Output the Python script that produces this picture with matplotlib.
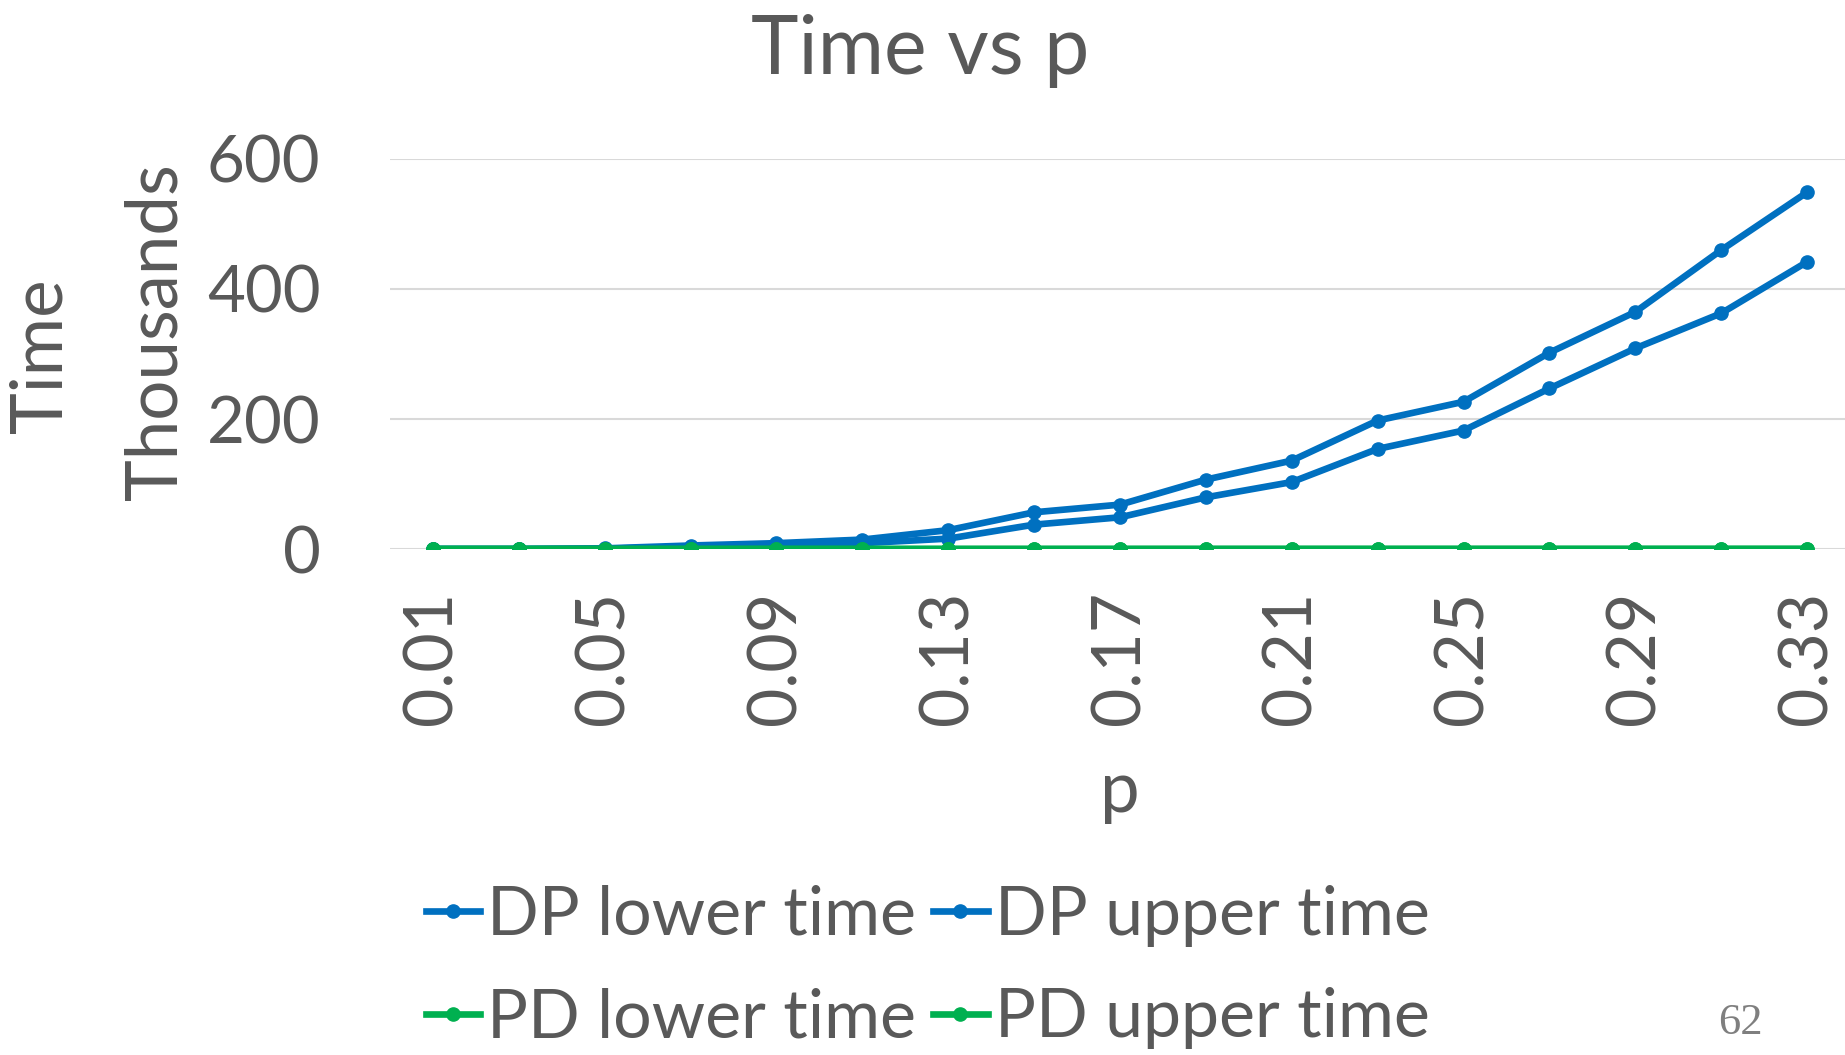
import numpy as np
import matplotlib.pyplot as plt
from matplotlib.lines import Line2D

# donnees (en milliers)
p = ["0.01", "0.03", "0.05", "0.07", "0.09", "0.11", "0.13", "0.15", "0.17",
     "0.19", "0.21", "0.23", "0.25", "0.27", "0.29", "0.31", "0.33"]
dp_lower = [0, 0, 0.5, 3.5, 5, 9, 16, 37.5, 48.8, 79.5, 103, 154, 182.3, 247, 308.7, 362.6, 441.7]
dp_upper = [0, 0, 1, 5.4, 9, 14.5, 29, 56.5, 68.3, 106.8, 136, 197.7, 226.5, 302, 364.7, 459.8, 548.7]
pd_lower = [0.01, 0.01, 0.01, 0.01, 0.02, 0.02, 0.03, 0.03, 0.04, 0.05, 0.06, 0.07, 0.08, 0.09, 0.1, 0.11, 0.12]
pd_upper = [0.01, 0.01, 0.01, 0.02, 0.02, 0.03, 0.03, 0.04, 0.05, 0.06, 0.07, 0.08, 0.09, 0.1, 0.11, 0.12, 0.13]
yticks = [0, 200, 400, 600]

plt.rcParams['font.family'] = ['Lato', 'DejaVu Sans']
gris = "#595959"
bleu = "#0070C0"
vert = "#00B050"

fig = plt.figure(figsize=(18.45, 10.55), dpi=100)
ax = fig.add_axes([0.2114, 0.4796, 0.7913, 0.3697])

x = np.arange(len(p))
style = dict(lw=4.8, marker='o', ms=9.5, solid_joinstyle='round')
l1, = ax.plot(x, dp_lower, color=bleu, **style)
l2, = ax.plot(x, dp_upper, color=bleu, **style)
l3, = ax.plot(x, pd_lower, color=vert, **style)
l4, = ax.plot(x, pd_upper, color=vert, **style)

ax.set_xlim(-0.5, len(p) - 0.5)
ax.set_ylim(0, 600)
ax.set_yticks(yticks)
ax.set_yticklabels([str(v) for v in yticks])
ax.set_xticks(x[::2])
ax.set_xticklabels(p[::2], rotation=90)
ax.tick_params(axis='x', length=0, pad=30, labelsize=49, labelcolor=gris)
ax.tick_params(axis='y', length=0, pad=50, labelsize=47, labelcolor=gris)
for s in ax.spines.values():
    s.set_visible(False)
ax.grid(axis='y', color="#D9D9D9", lw=1.5)
ax.set_axisbelow(True)

fig.text(0.499, 0.952, "Time vs p", ha='center', va='center', fontsize=58, color=gris)
fig.text(0.0223, 0.663, "Time", rotation=90, ha='center', va='center', fontsize=51, color=gris)
fig.text(0.0848, 0.686, "Thousands", rotation=90, ha='center', va='center', fontsize=51, color=gris)
fig.text(0.607, 0.25, "p", ha='center', va='center', fontsize=51, color=gris)

fig.legend([l1, l3, l2, l4],
           ["DP lower time", "PD lower time", "DP upper time", "PD upper time"],
           ncol=2, loc='center left', bbox_to_anchor=(0.2309, 0.0834),
           frameon=False, fontsize=49, labelcolor=gris, borderpad=0,
           handlelength=0.8, handletextpad=0.1, columnspacing=0.25,
           labelspacing=0.6, borderaxespad=0)

fig.text(0.9435, 0.03, "62", ha='center', va='center', fontsize=32,
         color="#7F7F7F", family='Liberation Serif')

plt.savefig("out.png", dpi=100)
